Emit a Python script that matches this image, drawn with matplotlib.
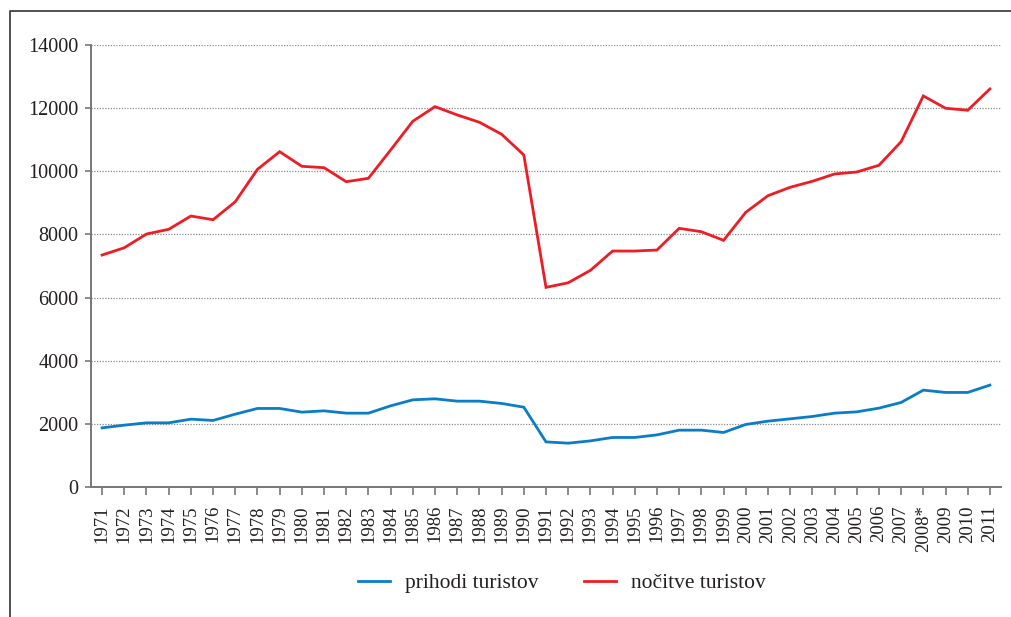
import matplotlib
matplotlib.use("Agg")
import matplotlib.pyplot as plt
from matplotlib.lines import Line2D

years = ["1971", "1972", "1973", "1974", "1975", "1976", "1977", "1978", "1979", "1980",
         "1981", "1982", "1983", "1984", "1985", "1986", "1987", "1988", "1989", "1990",
         "1991", "1992", "1993", "1994", "1995", "1996", "1997", "1998", "1999", "2000",
         "2001", "2002", "2003", "2004", "2005", "2006", "2007", "2008*", "2009", "2010", "2011"]

prihodi = [1873, 1959, 2032, 2032, 2149, 2108, 2307, 2488, 2488, 2371,
           2412, 2339, 2339, 2571, 2761, 2793, 2719, 2719, 2646, 2529,
           1429, 1388, 1461, 1569, 1569, 1651, 1800, 1800, 1727, 1981,
           2086, 2159, 2234, 2339, 2380, 2498, 2678, 3068, 2995, 2995, 3227]

nocitve = [7347, 7578, 8013, 8162, 8583, 8466, 9036, 10063, 10621, 10158,
           10114, 9670, 9778, 10675, 11585, 12048, 11785, 11553, 11173, 10517,
           6323, 6469, 6862, 7474, 7474, 7506, 8193, 8086, 7813, 8700,
           9227, 9493, 9683, 9914, 9977, 10190, 10938, 12387, 11997, 11933, 12608]

yticks = [0, 2000, 4000, 6000, 8000, 10000, 12000, 14000]

plt.rcParams['font.family'] = ['Liberation Serif', 'DejaVu Serif']

W, H = 1012, 617
fig = plt.figure(figsize=(W / 100, H / 100), dpi=100)
ax = fig.add_axes([91 / W, 1 - 487 / H, (1001 - 91) / W, (487 - 45) / H])

x = list(range(len(years)))
ax.plot(x, prihodi, color="#0A7DC6", lw=2.0, label="prihodi turistov", solid_joinstyle="miter")
ax.plot(x, nocitve, color="#EE1C25", lw=2.0, label="nočitve turistov", solid_joinstyle="miter")

ax.set_xlim(-0.5, len(years) - 0.5)
ax.set_ylim(0, 14000)
ax.set_yticks(yticks)
ax.set_yticklabels([str(v) for v in yticks], fontsize=14.5, color="#231F20")
ax.set_xticks(x)
ax.set_xticklabels(years, rotation=90, fontsize=13.5, color="#231F20")

for yv in yticks[1:]:
    ax.axhline(yv, color="#8a8a8a", lw=0.9, ls=(0, (1, 1.2)), zorder=0)

for s in ["top", "right"]:
    ax.spines[s].set_visible(False)
for s in ["left", "bottom"]:
    ax.spines[s].set_color("#777777")
    ax.spines[s].set_linewidth(1.4)
ax.tick_params(axis="both", direction="out", color="#777777", width=1.2)
ax.tick_params(axis="y", length=4, pad=5)
ax.tick_params(axis="x", length=6, pad=7)

leg = fig.legend(loc="center", bbox_to_anchor=(562 / W, 1 - 583 / H), ncol=2, frameon=False,
                 fontsize=15.5, handlelength=1.5, columnspacing=2.1, handletextpad=0.7)
for t in leg.get_texts():
    t.set_color("#231F20")

# outer frame (top and left edges)
fig.add_artist(Line2D([10 / W, 10 / W, 1.0], [0.0, 1 - 11 / H, 1 - 11 / H],
                      transform=fig.transFigure, color="#333333", lw=1.2))

fig.savefig("out.png", dpi=100)
